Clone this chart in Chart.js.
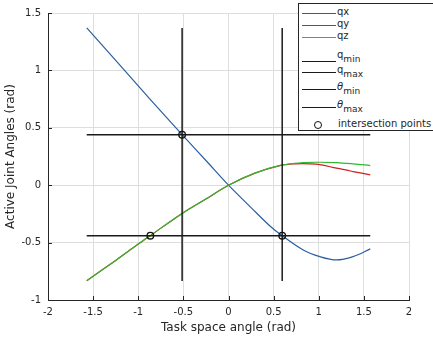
<!DOCTYPE html>
<html><head><meta charset="utf-8">
<script src="https://cdn.jsdelivr.net/npm/chart.js@4"></script>
<style>
html,body{margin:0;padding:0;background:#fff;overflow:hidden}
#wrap{position:relative;width:433px;height:341px}
#legend{position:absolute;left:298px;top:3px;width:140px;height:128px;border:1px solid #262626;background:#fff;box-sizing:border-box}
.ln{position:absolute;left:302px;width:34px;height:1px}
.tx{position:absolute;left:337px;font-family:"DejaVu Sans";font-size:10px;color:#262626;line-height:10px;white-space:nowrap}
.tx sub{font-size:9px;vertical-align:-4px;line-height:0}
.mk{position:absolute;left:314px;top:121px;width:6px;height:6px;border:1.3px solid #111;border-radius:50%}
</style></head>
<body>
<div id="wrap">
<canvas id="c" width="433" height="341"></canvas>
<div id="legend"></div>
<div class="ln" style="top:13px;background:#2a5f9e"></div><div class="tx" style="top:7px">qx</div>
<div class="ln" style="top:25px;background:#d02020"></div><div class="tx" style="top:19px">qy</div>
<div class="ln" style="top:37px;background:#30b830"></div><div class="tx" style="top:31px">qz</div>
<div class="ln" style="top:61px;background:#1a1a1a"></div><div class="tx" style="top:50px">q<sub>min</sub></div>
<div class="ln" style="top:72px;background:#1a1a1a"></div><div class="tx" style="top:65px">q<sub>max</sub></div>
<div class="ln" style="top:89px;background:#1a1a1a"></div><div class="tx" style="top:82px"><i>θ</i><sub>min</sub></div>
<div class="ln" style="top:107px;background:#1a1a1a"></div><div class="tx" style="top:100px"><i>θ</i><sub>max</sub></div>
<div class="mk"></div><div class="tx" style="top:119px;left:338px">intersection points</div>
</div>
<script>
// Series
const qxX = [-1.5708, -1.25, -1.0, -0.75, -0.514, -0.25, 0, 0.25, 0.459, 0.595, 0.828, 1.012, 1.197, 1.38, 1.5708];
const qxY = [1.37, 1.088, 0.865, 0.645, 0.44, 0.215, 0, -0.195, -0.355, -0.44, -0.564, -0.622, -0.651, -0.622, -0.555];
const qzX = [-1.5708, -1.25, -1.0, -0.868, -0.518, -0.26, 0, 0.293, 0.57, 0.828, 1.012, 1.197, 1.38, 1.5708];
const qzY = [-0.832, -0.655, -0.513, -0.44, -0.248, -0.125, 0, 0.105, 0.172, 0.197, 0.2, 0.197, 0.186, 0.171];
const qyX = [-1.5708, -1.25, -1.0, -0.868, -0.518, -0.26, 0, 0.293, 0.57, 0.75, 0.9, 1.012, 1.197, 1.38, 1.5708];
const qyY = [-0.832, -0.655, -0.513, -0.44, -0.248, -0.125, 0, 0.105, 0.171, 0.186, 0.186, 0.18, 0.148, 0.119, 0.09];
const qLimits = [-0.44, 0.44];          // q_min, q_max
const thetaLimits = [-0.514, 0.595];    // theta_min, theta_max
const taskRange = [-1.5708, 1.5708];    // x span of q limit lines
const jointRange = [-0.834, 1.369];     // y span of theta limit lines
const ixX = [-0.514, 0.595, -0.866];
const ixY = [0.44, -0.44, -0.44];
const xTicks = [-2, -1.5, -1, -0.5, 0, 0.5, 1, 1.5, 2];
const yTicks = [-1, -0.5, 0, 0.5, 1, 1.5];

const pts = (xs, ys) => xs.map((x, i) => ({x: x, y: ys[i]}));
const FONT = 'DejaVu Sans';
const TXT = '#262626';

const inTicks = {
  id: 'inTicks',
  afterDatasetsDraw(chart) {
    const {ctx, chartArea: a, scales: {x, y}} = chart;
    ctx.save();
    ctx.strokeStyle = TXT; ctx.lineWidth = 1;
    ctx.beginPath();
    xTicks.forEach(v => { const p = Math.round(x.getPixelForValue(v)) + 0.5; ctx.moveTo(p, a.bottom); ctx.lineTo(p, a.bottom - 4); });
    yTicks.forEach(v => { const p = Math.round(y.getPixelForValue(v)) + 0.5; ctx.moveTo(a.left, p); ctx.lineTo(a.left + 4, p); });
    ctx.stroke();
    ctx.restore();
  }
};

const blk = '#1a1a1a';
const curve = {pointRadius: 0, borderWidth: 1.2, tension: 0.35};
new Chart(document.getElementById('c'), {
  type: 'line',
  data: { datasets: [
    Object.assign({label: 'qx', data: pts(qxX, qxY), borderColor: '#2a5f9e', order: 10}, curve),
    Object.assign({label: 'qy', data: pts(qyX, qyY), borderColor: '#d02020', order: 9}, curve),
    Object.assign({label: 'qz', data: pts(qzX, qzY), borderColor: '#30b830', order: 8}, curve),
    {label: 'q_min', data: [{x: taskRange[0], y: qLimits[0]}, {x: taskRange[1], y: qLimits[0]}], borderColor: blk, borderWidth: 1.5, pointRadius: 0, order: 5},
    {label: 'q_max', data: [{x: taskRange[0], y: qLimits[1]}, {x: taskRange[1], y: qLimits[1]}], borderColor: blk, borderWidth: 1.5, pointRadius: 0, order: 5},
    {label: 'theta_min', data: [{x: thetaLimits[0], y: jointRange[0]}, {x: thetaLimits[0], y: jointRange[1]}], borderColor: blk, borderWidth: 1.5, pointRadius: 0, order: 5},
    {label: 'theta_max', data: [{x: thetaLimits[1], y: jointRange[0]}, {x: thetaLimits[1], y: jointRange[1]}], borderColor: blk, borderWidth: 1.5, pointRadius: 0, order: 5},
    {label: 'intersection points', data: pts(ixX, ixY), showLine: false, pointRadius: 3.3, borderColor: '#111', borderWidth: 1.3, backgroundColor: 'rgba(0,0,0,0)', order: 1}
  ]},
  options: {
    responsive: false, animation: false, devicePixelRatio: 1,
    layout: {padding: {left: 0, right: 24, top: 13, bottom: 0}},
    plugins: {legend: {display: false}, tooltip: {enabled: false}},
    scales: {
      x: {
        type: 'linear', min: -2, max: 2,
        afterBuildTicks: s => { s.ticks = xTicks.map(v => ({value: v})); },
        afterFit: s => { s.height = 41; },
        ticks: {font: {family: FONT, size: 10}, color: TXT, padding: 6, maxRotation: 0, autoSkip: false, callback: v => String(v)},
        grid: {color: '#dedede', drawTicks: false},
        border: {color: TXT, width: 1},
        title: {display: true, text: 'Task space angle (rad)', font: {family: FONT, size: 12}, color: TXT, padding: {top: 2, bottom: 6}}
      },
      y: {
        type: 'linear', min: -1, max: 1.5,
        afterBuildTicks: s => { s.ticks = yTicks.map(v => ({value: v})); },
        afterFit: s => { s.width = 48; },
        ticks: {font: {family: FONT, size: 10}, color: TXT, padding: 7, autoSkip: false, callback: v => String(v)},
        grid: {color: '#dedede', drawTicks: false},
        border: {color: TXT, width: 1},
        title: {display: true, text: 'Active Joint Angles (rad)', font: {family: FONT, size: 12}, color: TXT, padding: {top: 4, bottom: 2}}
      }
    }
  },
  plugins: [inTicks]
});
</script>
</body></html>
